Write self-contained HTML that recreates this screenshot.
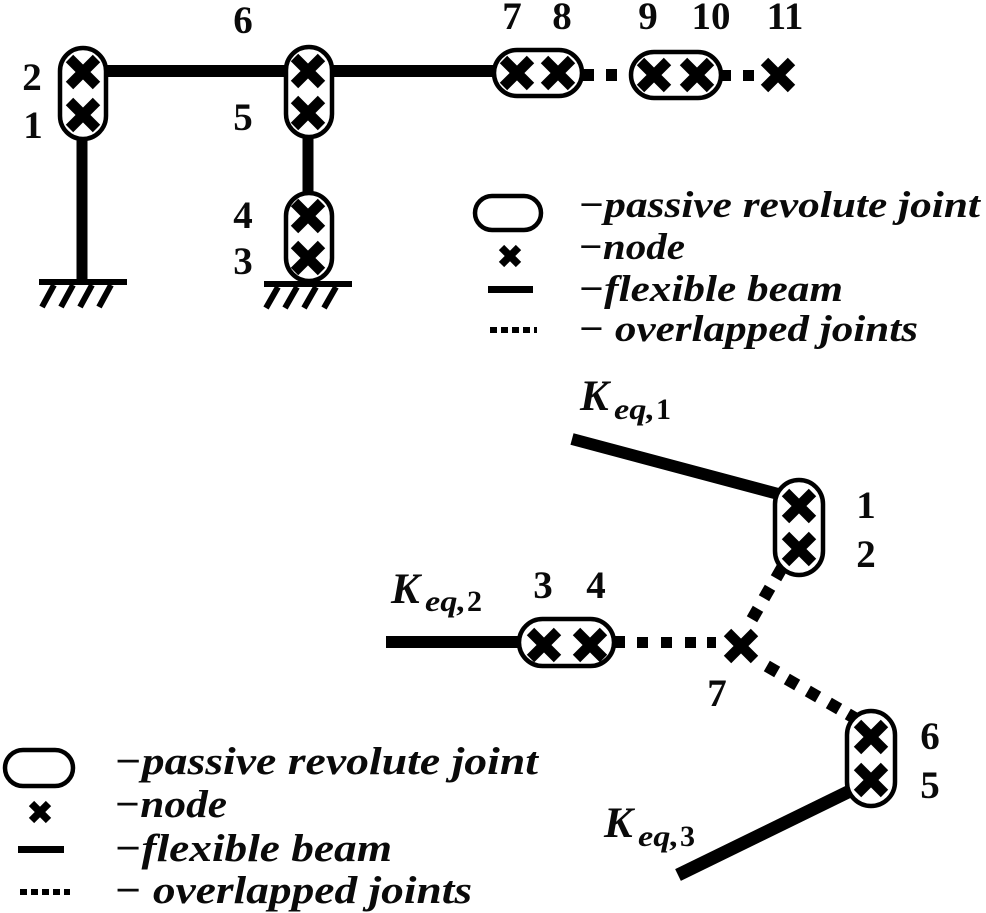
<!DOCTYPE html>
<html><head><meta charset="utf-8"><style>
html,body{margin:0;padding:0;background:#fff;width:986px;height:913px;overflow:hidden}
svg{display:block}
.n{font:bold 39px "Liberation Serif",serif;text-anchor:middle;fill:#0a0a0a}
.t{font:italic bold 37px "Liberation Serif",serif;fill:#0a0a0a}
.t2{font:italic bold 39px "Liberation Serif",serif;fill:#0a0a0a}
.k{font:italic bold 43px "Liberation Serif",serif;fill:#0a0a0a}
.s{font:italic bold 30px "Liberation Serif",serif;fill:#0a0a0a}
.s2{font:bold 30px "Liberation Serif",serif;fill:#0a0a0a}
.j{fill:#fff;stroke:#000;stroke-width:4.5}
.b{stroke:#000;stroke-width:12;fill:none}
</style></head><body>
<svg width="986" height="913" viewBox="0 0 986 913" xmlns="http://www.w3.org/2000/svg">
<defs>
<path id="x" d="M-13.5-13.5L13.5 13.5M13.5-13.5L-13.5 13.5" stroke="#000" stroke-width="10.5" fill="none"/>
<path id="xs" d="M-8.5-8.5L8.5 8.5M8.5-8.5L-8.5 8.5" stroke="#000" stroke-width="7.5" fill="none"/>
<rect id="d" x="-6" y="-6" width="12" height="12" fill="#000"/>
</defs>

<!-- top beams -->
<path class="b" d="M106 71H286M332 71H495"/>
<path class="b" style="stroke-width:11" d="M82 138V283M308 136V193"/>
<!-- grounds -->
<path d="M39 282H127M264 284H352" stroke="#000" stroke-width="6" fill="none"/>
<path d="M54 285L42 307M73 285L61 307M92 285L80 307M111 285L99 307M278 287L266 308M297 287L285 308M316 287L304 308M336 287L324 308" stroke="#000" stroke-width="6" fill="none"/>
<!-- top dots -->
<rect x="583" y="69" width="11" height="12"/><rect x="606" y="69" width="11" height="12"/>
<rect x="722" y="70" width="9" height="11"/><rect x="743" y="70" width="11" height="11"/>
<!-- top joints -->
<rect class="j" x="60" y="48" width="46" height="91" rx="23"/>
<rect class="j" x="286" y="47" width="46" height="90" rx="23"/>
<rect class="j" x="286" y="193" width="46" height="88" rx="23"/>
<rect class="j" x="494" y="50" width="88" height="46" rx="23"/>
<rect class="j" x="631" y="52" width="90" height="46" rx="23"/>
<use href="#x" x="83" y="72"/><use href="#x" x="83" y="115"/>
<use href="#x" x="308" y="71"/><use href="#x" x="308" y="113"/>
<use href="#x" x="308" y="216"/><use href="#x" x="308" y="258"/>
<use href="#x" x="517" y="73"/><use href="#x" x="558" y="73"/>
<use href="#x" x="654" y="75"/><use href="#x" x="697" y="75"/>
<use href="#x" x="778" y="75"/>
<!-- top numbers -->
<text class="n" x="32" y="90">2</text><text class="n" x="33" y="138">1</text>
<text class="n" x="243" y="33">6</text><text class="n" x="243" y="130">5</text>
<text class="n" x="243" y="228">4</text><text class="n" x="243" y="274">3</text>
<text class="n" x="512" y="29">7</text><text class="n" x="562" y="29">8</text>
<text class="n" x="648" y="29">9</text><text class="n" x="711" y="29">10</text><text class="n" x="785" y="29">11</text>
<!-- top legend -->
<rect class="j" x="475" y="196" width="66" height="34" rx="17"/>
<use href="#xs" x="510" y="256"/>
<rect x="488" y="286" width="45" height="7"/>
<path d="M490 330H537" stroke="#000" stroke-width="6" stroke-dasharray="7 4" fill="none"/>
<text class="t" x="578" y="217" textLength="402" lengthAdjust="spacingAndGlyphs">−passive revolute joint</text>
<text class="t" x="578" y="259" textLength="107" lengthAdjust="spacingAndGlyphs">−node</text>
<text class="t" x="578" y="301" textLength="265" lengthAdjust="spacingAndGlyphs">−flexible beam</text>
<text class="t" x="578" y="341" textLength="340" lengthAdjust="spacingAndGlyphs">− overlapped joints</text>

<!-- bottom beams -->
<path class="b" d="M572 439L782 495"/>
<path class="b" d="M386 642H520"/>
<path class="b" style="stroke-width:13" d="M678 875L852 790"/>
<!-- bottom dots -->
<rect x="614" y="636" width="11" height="12"/>
<rect x="637" y="637" width="11" height="11"/><rect x="661" y="637" width="11" height="11"/><rect x="685" y="637" width="11" height="11"/><rect x="707" y="637" width="9" height="11"/>
<use href="#d" transform="translate(779 573) rotate(30)"/>
<use href="#d" transform="translate(767 593) rotate(30)"/>
<use href="#d" transform="translate(755 614) rotate(30)"/>
<use href="#d" transform="translate(772 669) rotate(30)"/>
<use href="#d" transform="translate(792 682) rotate(30)"/>
<use href="#d" transform="translate(813 694) rotate(30)"/>
<use href="#d" transform="translate(834 706) rotate(30)"/>
<use href="#d" transform="translate(853 717) rotate(30)"/>
<!-- bottom joints -->
<rect class="j" x="775" y="480" width="48" height="95" rx="24"/>
<rect class="j" x="847" y="711" width="48" height="95" rx="24"/>
<rect class="j" x="519" y="619" width="95" height="47" rx="23.5"/>
<use href="#x" x="799" y="506"/><use href="#x" x="799" y="549"/>
<use href="#x" x="871" y="737"/><use href="#x" x="871" y="780"/>
<use href="#x" x="544" y="645"/><use href="#x" x="590" y="645"/>
<use href="#x" x="741" y="646"/>
<!-- bottom numbers -->
<text class="n" x="866" y="518">1</text><text class="n" x="866" y="567">2</text>
<text class="n" x="543" y="598">3</text><text class="n" x="596" y="598">4</text>
<text class="n" x="717" y="706">7</text>
<text class="n" x="930" y="749">6</text><text class="n" x="930" y="798">5</text>
<!-- K labels -->
<text class="k" x="580" y="410">K</text><text class="s" x="614" y="419" textLength="41" lengthAdjust="spacingAndGlyphs">eq,</text><text class="s2" x="656" y="419">1</text>
<text class="k" x="391" y="603">K</text><text class="s" x="425" y="611" textLength="41" lengthAdjust="spacingAndGlyphs">eq,</text><text class="s2" x="467" y="611">2</text>
<text class="k" x="604" y="837">K</text><text class="s" x="638" y="846" textLength="41" lengthAdjust="spacingAndGlyphs">eq,</text><text class="s2" x="680" y="846">3</text>
<!-- bottom legend -->
<rect class="j" x="5" y="750" width="68" height="36" rx="18"/>
<use href="#xs" x="40" y="812"/>
<rect x="18" y="846" width="46" height="7"/>
<path d="M20 892H70" stroke="#000" stroke-width="6" stroke-dasharray="7 4" fill="none"/>
<text class="t2" x="114" y="774" textLength="424" lengthAdjust="spacingAndGlyphs">−passive revolute joint</text>
<text class="t2" x="114" y="817" textLength="113" lengthAdjust="spacingAndGlyphs">−node</text>
<text class="t2" x="114" y="861" textLength="278" lengthAdjust="spacingAndGlyphs">−flexible beam</text>
<text class="t2" x="114" y="903" textLength="358" lengthAdjust="spacingAndGlyphs">− overlapped joints</text>
</svg>
</body></html>
